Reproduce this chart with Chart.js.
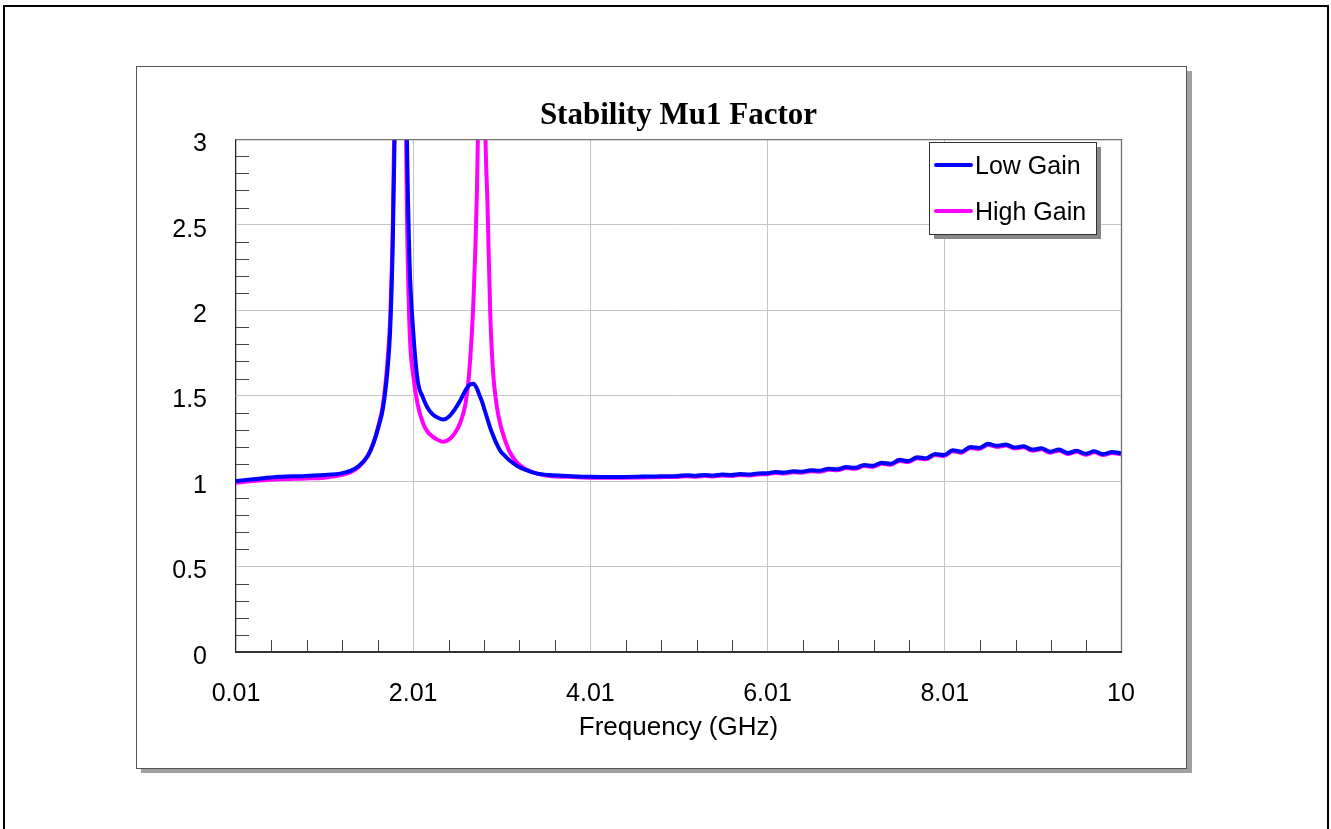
<!DOCTYPE html>
<html>
<head>
<meta charset="UTF-8">
<title>Stability Mu1 Factor</title>
<script src="https://cdn.jsdelivr.net/npm/chart.js@4.4.1/dist/chart.umd.min.js"></script>
<style>
  html, body { margin: 0; padding: 0; background: #fff; overflow: hidden; }
  #wrap { position: relative; width: 1331px; height: 829px; }
</style>
</head>
<body>
<div id="wrap"><canvas id="mu1"></canvas></div>
<script>
// frequency sweep (GHz), denser around the two resonances
const freqGHz = [
  0.01, 0.2, 0.5, 0.8, 1.0, 1.2, 1.3, 1.4, 1.5, 1.56,
  1.62, 1.67, 1.72, 1.75, 1.78, 1.80, 1.83, 1.87, 1.91, 1.94,
  1.97, 2.01, 2.06, 2.12, 2.17, 2.23, 2.29, 2.35, 2.42, 2.48,
  2.54, 2.60, 2.64, 2.69, 2.73, 2.76, 2.79, 2.82, 2.85, 2.88,
  2.91, 2.95, 2.99, 3.04, 3.10, 3.18, 3.28, 3.40, 3.55, 3.75,
  4.0, 4.3, 4.6, 4.8,
  5.0, 5.1, 5.2, 5.3, 5.4, 5.5, 5.6, 5.7, 5.8, 5.9,
  6.0, 6.1, 6.2, 6.3, 6.4, 6.5, 6.6, 6.7, 6.8, 6.9,
  7.0, 7.1, 7.2, 7.3, 7.4, 7.5, 7.6, 7.7, 7.8, 7.9,
  8.0, 8.1, 8.2, 8.3, 8.4, 8.5, 8.6, 8.7, 8.8, 8.9,
  9.0, 9.1, 9.2, 9.3, 9.4, 9.5, 9.6, 9.7, 9.8, 9.9,
  10.0
];

const lowGain = [
  1.00, 1.01, 1.025, 1.03, 1.035, 1.045, 1.06, 1.09, 1.15, 1.22,
  1.32, 1.43, 1.65, 1.88, 2.4, 3.0, 4.5, 6.0, 4.5, 3.0,
  2.27, 1.88, 1.59, 1.49, 1.43, 1.39, 1.37, 1.36, 1.38, 1.42,
  1.47, 1.53, 1.56, 1.57, 1.54, 1.50, 1.46, 1.41, 1.36, 1.31,
  1.27, 1.22, 1.18, 1.15, 1.12, 1.09, 1.065, 1.045, 1.035, 1.03,
  1.025, 1.024, 1.026, 1.028,
  1.030, 1.034, 1.031, 1.036, 1.033, 1.038, 1.035, 1.041, 1.038, 1.045,
  1.046, 1.053, 1.050, 1.058, 1.055, 1.064, 1.061, 1.072, 1.069, 1.082,
  1.078, 1.094, 1.089, 1.107, 1.101, 1.124, 1.117, 1.140, 1.133, 1.158,
  1.152, 1.180, 1.172, 1.200, 1.194, 1.218, 1.206, 1.214, 1.196, 1.204,
  1.184, 1.192, 1.172, 1.184, 1.164, 1.178, 1.160, 1.174, 1.158, 1.170,
  1.162
];

const highGain = [
  0.99, 1.0, 1.01, 1.015, 1.02, 1.035, 1.05, 1.085, 1.15, 1.22,
  1.33, 1.45, 1.70, 1.95, 2.5, 3.2, 5.0, 5.0, 3.9, 2.55,
  1.88, 1.62, 1.45, 1.34, 1.29, 1.26, 1.24, 1.23, 1.245, 1.28,
  1.34, 1.45, 1.62, 2.05, 2.7, 3.6, 5.0, 3.2, 2.6, 1.98,
  1.65, 1.45, 1.34, 1.25, 1.17, 1.11, 1.07, 1.045, 1.03, 1.025,
  1.02, 1.019, 1.021, 1.023,
  1.024, 1.028, 1.025, 1.030, 1.027, 1.032, 1.029, 1.035, 1.032, 1.039,
  1.040, 1.047, 1.044, 1.052, 1.049, 1.058, 1.055, 1.066, 1.063, 1.076,
  1.072, 1.088, 1.083, 1.101, 1.095, 1.118, 1.111, 1.134, 1.127, 1.152,
  1.146, 1.174, 1.166, 1.194, 1.188, 1.212, 1.200, 1.208, 1.190, 1.198,
  1.178, 1.186, 1.166, 1.178, 1.158, 1.172, 1.154, 1.168, 1.152, 1.164,
  1.156
];

const xTickValues = [0.01, 2.01, 4.01, 6.01, 8.01, 10];
const xTickLabels = ['0.01', '2.01', '4.01', '6.01', '8.01', '10'];
const xMinorStep = 0.4;
const yMinorStep = 0.1;

const SANS = "'Liberation Sans', Arial, sans-serif";
const toPoints = ys => ys.map((y, i) => ({ x: freqGHz[i], y: y }));

// page border, boxed chart panel, plot frame, inside minor ticks and legend
const decor = {
  id: 'decor',
  beforeDraw(chart) {
    const ctx = chart.ctx;
    ctx.save();
    ctx.fillStyle = '#fff';
    ctx.fillRect(0, 0, chart.width, chart.height);
    ctx.strokeStyle = '#000';
    ctx.lineWidth = 2;
    ctx.strokeRect(4, 6, 1324, 900);
    ctx.fillStyle = '#a0a0a0';
    ctx.fillRect(141, 71, 1051, 702);
    ctx.fillStyle = '#fff';
    ctx.fillRect(136, 66, 1051, 703);
    ctx.strokeStyle = '#555';
    ctx.lineWidth = 1;
    ctx.strokeRect(136.5, 66.5, 1050, 702);
    ctx.restore();
  },
  afterDatasetsDraw(chart) {
    const ctx = chart.ctx;
    const a = chart.chartArea;
    const xs = chart.scales.x, ys = chart.scales.y;
    ctx.save();

    // frame
    ctx.lineWidth = 1.3;
    ctx.strokeStyle = '#707070';
    ctx.beginPath();
    ctx.moveTo(a.left, a.top + 0.5);
    ctx.lineTo(a.right + 0.5, a.top + 0.5);
    ctx.lineTo(a.right + 0.5, a.bottom);
    ctx.stroke();
    ctx.strokeStyle = '#222';
    ctx.lineWidth = 1;
    ctx.beginPath();
    ctx.moveTo(a.left - 0.5, a.top);
    ctx.lineTo(a.left - 0.5, a.bottom);
    ctx.stroke();
    ctx.strokeStyle = '#333';
    ctx.lineWidth = 2;
    ctx.beginPath();
    ctx.moveTo(a.left - 1, a.bottom);
    ctx.lineTo(a.right + 1, a.bottom);
    ctx.stroke();

    // minor ticks pointing into the plot
    const isMajor = (v, majors) => majors.some(m => Math.abs(m - v) < 1e-6);
    ctx.strokeStyle = '#444';
    ctx.lineWidth = 1;
    ctx.beginPath();
    for (let v = xTickValues[0] + xMinorStep; v < xs.max; v += xMinorStep) {
      if (isMajor(v, xTickValues)) continue;
      const px = Math.round(xs.getPixelForValue(v)) + 0.5;
      ctx.moveTo(px, a.bottom);
      ctx.lineTo(px, a.bottom - 12);
    }
    const yMajors = ys.ticks.map(t => t.value);
    for (let i = 1; i * yMinorStep < ys.max; i++) {
      const v = +(i * yMinorStep).toFixed(2);
      if (isMajor(v, yMajors)) continue;
      const py = Math.round(ys.getPixelForValue(v)) + 0.5;
      ctx.moveTo(a.left, py);
      ctx.lineTo(a.left + 13, py);
    }
    ctx.stroke();

    // legend box
    const lx = 929, ly = 142, lw = 167, lh = 92;
    ctx.fillStyle = '#888';
    ctx.fillRect(lx + 5, ly + 5, lw, lh);
    ctx.fillStyle = '#fff';
    ctx.fillRect(lx, ly, lw, lh);
    ctx.strokeStyle = '#333';
    ctx.lineWidth = 1;
    ctx.strokeRect(lx + 0.5, ly + 0.5, lw, lh);
    ctx.font = '25px ' + SANS;
    ctx.textBaseline = 'middle';
    ctx.textAlign = 'left';
    chart.data.datasets.forEach((ds, i) => {
      const y = ly + 23 + i * 46;
      ctx.strokeStyle = ds.borderColor;
      ctx.lineWidth = 4;
      ctx.lineCap = 'round';
      ctx.beginPath();
      ctx.moveTo(lx + 7, y);
      ctx.lineTo(lx + 42, y);
      ctx.stroke();
      ctx.fillStyle = '#000';
      ctx.fillText(ds.label, lx + 46, y + 2);
    });
    ctx.restore();
  }
};

new Chart(document.getElementById('mu1'), {
  type: 'line',
  data: {
    datasets: [
      {
        label: 'Low Gain',
        data: toPoints(lowGain),
        borderColor: '#0000ff',
        borderWidth: 4,
        pointRadius: 0,
        cubicInterpolationMode: 'monotone'
      },
      {
        label: 'High Gain',
        data: toPoints(highGain),
        borderColor: '#ff00ff',
        borderWidth: 4,
        pointRadius: 0,
        cubicInterpolationMode: 'monotone'
      }
    ]
  },
  options: {
    responsive: true,
    maintainAspectRatio: false,
    animation: false,
    devicePixelRatio: 1,
    layout: { padding: { left: 136, right: 210, top: 80, bottom: 60 } },
    plugins: {
      legend: { display: false },
      tooltip: { enabled: false },
      title: {
        display: true,
        fullSize: false,
        text: 'Stability Mu1 Factor',
        color: '#000',
        font: { family: "'Liberation Serif', 'Times New Roman', serif", size: 31, weight: 'bold', lineHeight: 1.2 },
        padding: { top: 17, bottom: 5 }
      }
    },
    scales: {
      x: {
        type: 'linear',
        min: 0.01,
        max: 10,
        afterBuildTicks: s => { s.ticks = xTickValues.map(v => ({ value: v })); },
        afterFit: s => { s.height = 117; },
        grid: { color: '#c4c4c4', lineWidth: 1, drawTicks: false, tickLength: 0 },
        border: { display: false },
        ticks: {
          autoSkip: false,
          maxRotation: 0,
          padding: 27,
          color: '#000',
          font: { family: SANS, size: 25 },
          callback: (v, i) => xTickLabels[i]
        },
        title: {
          display: true,
          text: 'Frequency (GHz)',
          color: '#000',
          font: { family: SANS, size: 26 },
          padding: { top: 0, bottom: 26 }
        }
      },
      y: {
        min: 0,
        max: 3,
        afterFit: s => { s.width = 100; },
        grid: { color: '#c4c4c4', lineWidth: 1, drawTicks: false, tickLength: 0 },
        border: { display: false },
        ticks: {
          stepSize: 0.5,
          padding: 29,
          labelOffset: 5,
          color: '#000',
          font: { family: SANS, size: 25 },
          callback: v => String(+v.toFixed(1))
        }
      }
    }
  },
  plugins: [decor]
});
</script>
</body>
</html>
